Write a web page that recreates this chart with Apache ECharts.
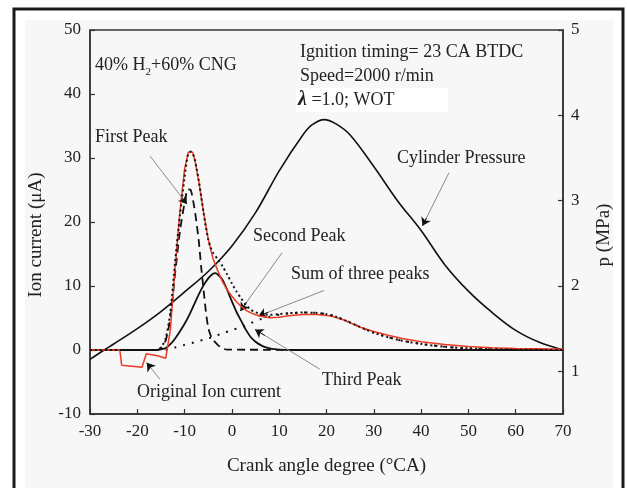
<!DOCTYPE html>
<html><head><meta charset="utf-8">
<script src="https://cdn.jsdelivr.net/npm/echarts@6/dist/echarts.min.js"></script>
<style>html,body{margin:0;padding:0;background:#fff}#c{width:627px;height:488px}</style>
</head><body><div id="c"></div>
<script>
// ---- data (crank angle in °CA, ion current in µA, pressure in MPa) ----
const pressureTicks = [1, 2, 3, 4, 5];

const pressureAngle = [-30, -27, -25, -20, -15, -10, -5, 0, 5, 10, 15, 17, 19.5, 22, 25, 30, 35, 40, 45, 50, 55, 60, 65, 70];
const pressureMPa   = [1.14, 1.25, 1.32, 1.50, 1.70, 1.93, 2.17, 2.47, 2.86, 3.35, 3.77, 3.89, 3.95, 3.90, 3.77, 3.40, 3.00, 2.65, 2.25, 1.94, 1.69, 1.48, 1.34, 1.25];

const originalAngle = [-30, -23.7, -23.3, -19, -18.6, -18.1, -15.7, -14, -13.7, -13, -12, -11, -10, -9.2, -8.3, -7.8, -7, -6, -5, -4, -3, -2, -1, 0, 1, 2, 3, 4, 5, 6, 8, 10, 12, 15, 18, 21, 24, 27, 30, 33, 36, 40, 45, 50, 55, 60, 65, 70];
const originalIon   = [0, 0, -2.4, -2.7, -2.7, -0.6, -0.9, -1.3, -1.3, 3.2, 13, 21.5, 28.3, 30.9, 30.9, 29.6, 26.3, 21.6, 17.3, 14.3, 12.4, 10.7, 9.4, 8.4, 7.5, 6.8, 6.2, 5.8, 5.5, 5.3, 5.05, 5.1, 5.35, 5.55, 5.55, 5.3, 4.6, 3.6, 2.9, 2.3, 1.8, 1.3, 0.85, 0.55, 0.35, 0.25, 0.2, 0.1];

const firstAngle = [-30, -16, -15, -14, -13, -12, -11, -10, -9.3, -8.7, -8, -7.5, -7, -6.5, -6, -5.5, -5, -4.5, -4, -3, -2.5, -2, -1, 70];
const firstIon   = [0, 0, 0.3, 1.5, 5, 12, 18.5, 23, 25.1, 25, 22.5, 20, 17, 13, 9.5, 6, 3.5, 2.3, 1.6, 0.8, 0.5, 0.25, 0.05, 0];

const secondAngle = [-30, -16, -15, -14, -13, -12, -11, -10, -9, -8, -7, -6, -5, -4, -3.5, -3, -2, -1, 0, 1, 2, 3, 4, 5, 6, 7, 8, 9, 10, 12, 70];
const secondIon   = [0, 0, 0.1, 0.3, 0.9, 1.8, 2.9, 4.1, 5.5, 7.1, 8.7, 10.1, 11.2, 11.9, 12, 11.8, 11, 9.4, 7.6, 5.9, 4.5, 3.1, 2.0, 1.3, 0.8, 0.45, 0.25, 0.12, 0.05, 0, 0];

const thirdAngle = [-14, -12, -10, -8, -6, -4, -2, 0, 2, 4, 6, 8, 10, 12, 15, 18, 20, 22, 25, 28, 30, 33, 36, 40, 45, 50, 55, 60, 65, 70];
const thirdIon   = [0, 0.4, 0.8, 1.2, 1.6, 2.05, 2.6, 3.1, 3.6, 4.2, 4.8, 5.2, 5.5, 5.7, 5.85, 5.8, 5.6, 5.2, 4.3, 3.3, 2.7, 2.0, 1.45, 0.95, 0.5, 0.25, 0.12, 0.05, 0.02, 0];

const sumAngle = [-30, -16, -15, -14, -13, -12, -11, -10, -9.3, -8.7, -8, -7.5, -7, -6.5, -6, -5.5, -5, -4.5, -4, -3, -2, -1, 0, 1, 2, 3, 4, 5, 6, 7, 8, 10, 12, 15, 18, 20, 22, 25, 28, 30, 33, 36, 40, 45, 50, 55, 60, 65, 70];
const sumIon   = [0, 0, 0.4, 1.8, 6, 13.8, 21, 27, 30.5, 31, 30.2, 28.5, 26.5, 24, 21.5, 19.2, 17.3, 16, 15.2, 14.2, 13.1, 11.8, 10.4, 9.1, 8, 7, 6.3, 5.9, 5.65, 5.55, 5.5, 5.6, 5.75, 5.85, 5.8, 5.6, 5.2, 4.3, 3.3, 2.7, 2.0, 1.45, 0.95, 0.5, 0.25, 0.12, 0.05, 0.02, 0];

// annotation arrows: [fromAngle, fromIon, toAngle, toIon]
const arrows = [
  [-17.3, 30.3, -9.5, 22.8],   // First Peak
  [45.9, 27.7, 40.3, 19.4],    // Cylinder Pressure
  [10.6, 15.2, 1.8, 6.1],      // Second Peak
  [19.5, 9.3, 5.6, 5.3],       // Sum of three peaks
  [18.6, -3.0, 4.9, 3.2],      // Third Peak
  [-15.2, -4.6, -18.0, -2.0]   // Original Ion current
];

const pair = (a, v) => a.map((x, i) => [x, v[i]]);
const SERIF = '"Liberation Serif","Times New Roman",serif';
const INK = '#222';

const grayLines = arrows.map(a => [{coord: [a[0], a[1]]}, {coord: [a[2], a[3]]}]);
const headLines = arrows.map(a => [{coord: [a[0] + (a[2] - a[0]) * 0.85, a[1] + (a[3] - a[1]) * 0.85]}, {coord: [a[2], a[3]]}]);

function txt(text, x, y, extra) {
  return Object.assign({
    type: 'text', x: x, y: y, z: 100,
    style: {text: text, font: '18px ' + SERIF, fill: INK, align: 'left', verticalAlign: 'middle'}
  }, extra || {});
}

const chart = echarts.init(document.getElementById('c'), null, {renderer: 'canvas'});
chart.setOption({
  animation: false,
  backgroundColor: '#ffffff',
  grid: {left: 90, right: 64, top: 30, bottom: 74, show: true, borderColor: '#333', borderWidth: 1.5, backgroundColor: 'transparent'},
  xAxis: {
    type: 'value', min: -30, max: 70, interval: 10,
    name: 'Crank angle degree (°CA)', nameLocation: 'middle', nameGap: 43,
    nameTextStyle: {fontFamily: SERIF, fontSize: 19, color: INK},
    axisLine: {onZero: false, lineStyle: {color: '#333', width: 1.5}},
    axisTick: {inside: true, length: 5, lineStyle: {color: '#333', width: 1.2}},
    axisLabel: {fontFamily: SERIF, fontSize: 17, color: INK, margin: 9},
    splitLine: {show: false}
  },
  yAxis: [{
    type: 'value', min: -10, max: 50, interval: 10, position: 'left',
    name: 'Ion current (μA)', nameLocation: 'middle', nameGap: 44, nameRotate: 90,
    nameTextStyle: {fontFamily: SERIF, fontSize: 19, color: INK, padding: [0, 26, 0, 0]},
    axisLine: {show: true, onZero: false, lineStyle: {color: '#333', width: 1.5}},
    axisTick: {inside: true, length: 5, lineStyle: {color: '#333', width: 1.2}},
    axisLabel: {fontFamily: SERIF, fontSize: 17, color: INK, margin: 9},
    splitLine: {show: false}
  }, {
    type: 'value', min: 0.5, max: 5, position: 'right',
    name: 'p (MPa)', nameLocation: 'middle', nameGap: 32, nameRotate: 90,
    nameTextStyle: {fontFamily: SERIF, fontSize: 19, color: INK, padding: [0, 26, 0, 0]},
    axisLine: {show: true, onZero: false, lineStyle: {color: '#333', width: 1.5}},
    axisTick: {inside: true, length: 5, customValues: pressureTicks, lineStyle: {color: '#333', width: 1.2}},
    axisLabel: {fontFamily: SERIF, fontSize: 17, color: INK, margin: 8, customValues: pressureTicks},
    splitLine: {show: false}
  }],
  graphic: [
    {type: 'rect', z: -20, shape: {x: 14, y: 9, width: 609, height: 500}, style: {fill: '#fff', stroke: '#1a1a1a', lineWidth: 3}},
    {type: 'rect', z: -19, shape: {x: 25, y: 20, width: 588, height: 468}, style: {fill: '#f7f7f7'}},
    {type: 'rect', z: -18, shape: {x: 296, y: 88, width: 152, height: 24}, style: {fill: '#ffffff'}},
    txt('', 95, 65, {style: {text: '{a|40% H}{s|2}{a|+60% CNG}', align: 'left', verticalAlign: 'middle',
      rich: {a: {font: '18px ' + SERIF, fill: INK, lineHeight: 26, verticalAlign: 'middle'},
             s: {font: '11px ' + SERIF, fill: INK, lineHeight: 11, verticalAlign: 'bottom'}}}}),
    txt('Ignition timing= 23 CA BTDC', 300, 52),
    txt('Speed=2000 r/min', 300, 76),
    txt('', 298, 100, {style: {text: '{l|λ}{a| =1.0; WOT}', align: 'left', verticalAlign: 'middle',
      rich: {l: {font: 'italic bold 20px ' + SERIF, fill: INK}, a: {font: '18px ' + SERIF, fill: INK}}}}),
    txt('First Peak', 95, 137),
    txt('Cylinder Pressure', 397, 158),
    txt('Second Peak', 253, 236),
    txt('Sum of three peaks', 291, 274),
    txt('Third Peak', 322, 380),
    txt('Original Ion current', 137, 392)
  ],
  series: [
    {
      name: 'Cylinder Pressure', type: 'line', yAxisIndex: 1, data: pair(pressureAngle, pressureMPa),
      smooth: 0.35, showSymbol: false, lineStyle: {color: '#111', width: 1.6}, z: 3
    },
    {
      name: 'Second Peak', type: 'line', yAxisIndex: 0, data: pair(secondAngle, secondIon),
      smooth: 0.3, showSymbol: false, lineStyle: {color: '#111', width: 1.8}, z: 4,
      markLine: {silent: true, symbol: ['none', 'none'], label: {show: false},
        lineStyle: {color: '#8a8a8a', width: 1, type: 'solid'}, data: grayLines}
    },
    {
      name: 'First Peak', type: 'line', yAxisIndex: 0, data: pair(firstAngle, firstIon),
      smooth: 0.25, showSymbol: false, lineStyle: {color: '#111', width: 1.8, type: [8, 5]}, z: 4,
      markLine: {silent: true, symbol: ['none', 'arrow'], symbolSize: 8, label: {show: false},
        lineStyle: {color: '#111', width: 1, type: 'solid'}, data: headLines}
    },
    {
      name: 'Third Peak', type: 'line', yAxisIndex: 0, data: pair(thirdAngle, thirdIon),
      smooth: 0.3, showSymbol: false, lineStyle: {color: '#111', width: 2, type: [2, 7]}, z: 4
    },
    {
      name: 'Original Ion current', type: 'line', yAxisIndex: 0, data: pair(originalAngle, originalIon),
      smooth: false, showSymbol: false, lineStyle: {color: '#ec3b24', width: 1.5}, z: 5
    },
    {
      name: 'Sum of three peaks', type: 'line', yAxisIndex: 0, data: pair(sumAngle, sumIon),
      smooth: 0.25, showSymbol: false, lineStyle: {color: '#111', width: 2, type: [2, 3]}, z: 6
    }
  ]
});
</script>
</body></html>
